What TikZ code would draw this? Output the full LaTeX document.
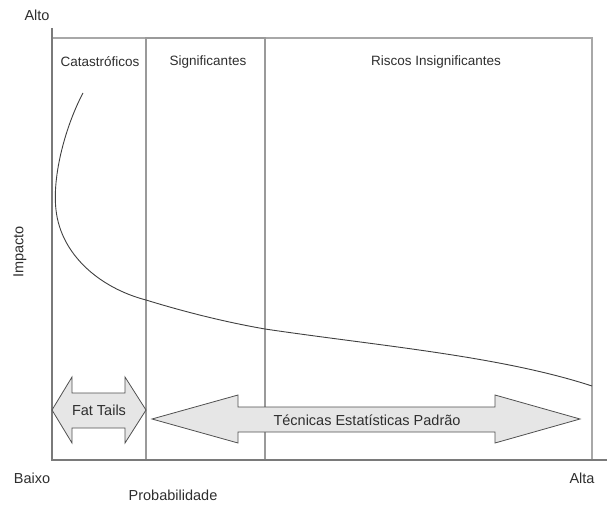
\documentclass[tikz,border=0pt]{standalone}
\usepackage{fontspec}
\setmainfont{Liberation Sans}
\definecolor{txt}{HTML}{2E2E2E}
\definecolor{frame}{HTML}{A8A8A8}
\definecolor{frame2}{HTML}{9A9A9A}
\definecolor{axis}{HTML}{7A7A7A}
\definecolor{arrfill}{HTML}{E6E6E6}
\definecolor{arrline}{HTML}{505050}
\tikzset{
  lbl/.style={text=txt,inner sep=0pt,font=\fontsize{13.5}{15}\selectfont},
  axlbl/.style={text=txt,inner sep=0pt,font=\fontsize{14.5}{16}\selectfont},
  arrlbl/.style={text=txt,inner sep=0pt,font=\fontsize{14.5}{16}\selectfont},
  framel/.style={draw=frame,line width=1.1pt},
  axisl/.style={draw=axis,line width=1.1pt},
  bigarrow/.style={draw=arrline,fill=arrfill,line width=0.8pt,line join=miter},
  curvel/.style={draw=black!75,line width=0.9pt}
}
\begin{document}
\begin{tikzpicture}[x=1pt,y=-1pt]
\useasboundingbox (0,0) rectangle (607,505);
% frame and regions
\draw[framel] (52,38) rectangle (592,460);
\draw[framel,draw=frame2] (146,38) rectangle (265,460);
\draw[axisl] (52,28) -- (52,460) -- (607,460);
% region labels
\node[lbl] (cat) at (100,62) {Catastróficos};
\node[lbl] (sig) at (208,62) {Significantes};
\node[lbl] (ris) at (436,62) {Riscos Insignificantes};
% axis labels
\node[axlbl] (alto) at (37,15) {Alto};
\node[axlbl] (baixo) at (32,478) {Baixo};
\node[axlbl] (alta) at (582,478) {Alta};
\node[axlbl] (prob) at (173,495) {Probabilidade};
\node[axlbl,rotate=90] (imp) at (20,252) {Impacto};
% curve
\draw[curvel] (83,93) .. controls (66,125) and (52,175) .. (56,210)
  .. controls (61,255) and (100,288) .. (146,300)
  .. controls (185,312) and (225,322) .. (265,329)
  .. controls (380,346) and (500,356) .. (592,386);
% Fat Tails double arrow
\draw[bigarrow] (52,410) -- (72,377) -- (72,393) -- (125,393) -- (125,377) -- (146,410) -- (125,443) -- (125,428) -- (72,428) -- (72,443) -- cycle;
\node[arrlbl] (fat) at (99,410) {Fat Tails};
% Tecnicas double arrow
\draw[bigarrow] (152,419) -- (238,395) -- (238,407) -- (495,407) -- (495,395) -- (580,419) -- (495,443) -- (495,432) -- (238,432) -- (238,443) -- cycle;
\node[arrlbl] (tec) at (367,420) {Técnicas Estatísticas Padrão};
\end{tikzpicture}
\end{document}
